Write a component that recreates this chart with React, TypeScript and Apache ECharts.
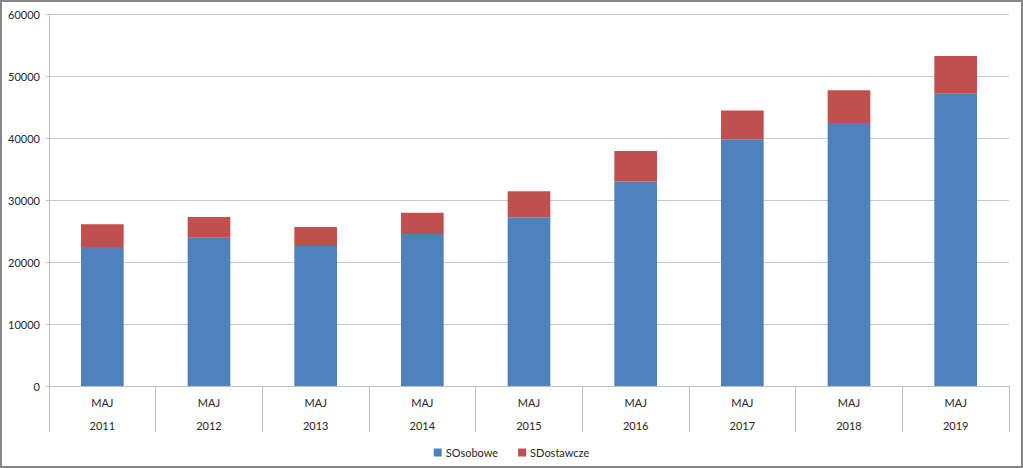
import React, { useEffect, useRef } from "react";
import * as echarts from "echarts";

const months = ["MAJ", "MAJ", "MAJ", "MAJ", "MAJ", "MAJ", "MAJ", "MAJ", "MAJ"];
const years = ["2011", "2012", "2013", "2014", "2015", "2016", "2017", "2018", "2019"];
const osobowe = [22400, 23900, 22600, 24500, 27200, 33000, 39800, 42400, 47150];
const dostawcze = [3700, 3350, 3050, 3450, 4200, 4900, 4650, 5300, 6080];
const yTicks = { min: 0, max: 60000, interval: 10000 };

const FONT = "Lato, 'Open Sans', sans-serif";

export default function App() {
  const ref = useRef<HTMLDivElement>(null);
  useEffect(() => {
    if (!ref.current) return;
    const chart = echarts.init(ref.current, undefined, { renderer: "svg" });
    const categories = years.map((y, i) => `${months[i]}\n${y}`);
    chart.setOption({
      animation: false,
      backgroundColor: "#ffffff",
      textStyle: { fontFamily: FONT },
      graphic: [
        {
          type: "rect",
          shape: { x: 1, y: 1, width: 1021, height: 466 },
          style: { fill: "none", stroke: "#868686", lineWidth: 2 },
          silent: true,
        },
      ],
      grid: { left: 49, right: 14, top: 14, bottom: 82, containLabel: false },
      legend: {
        top: 442,
        left: "center",
        itemWidth: 8,
        itemHeight: 8,
        itemGap: 20,
        icon: "rect",
        textStyle: { fontFamily: FONT, fontSize: 11, color: "#262626", padding: [0, 0, 0, -1] },
        data: ["SOsobowe", "SDostawcze"],
      },
      xAxis: {
        type: "category",
        data: categories,
        axisLine: { show: true, lineStyle: { color: "#bfbfbf", width: 1 } },
        axisTick: { show: true, length: 46, alignWithLabel: false, lineStyle: { color: "#bfbfbf" } },
        axisLabel: {
          interval: 0,
          margin: 5,
          fontFamily: FONT,
          fontSize: 11,
          lineHeight: 23,
          color: "#262626",
        },
      },
      yAxis: {
        type: "value",
        min: yTicks.min,
        max: yTicks.max,
        interval: yTicks.interval,
        axisLine: { show: true, lineStyle: { color: "#bfbfbf", width: 1 } },
        axisTick: { show: true, length: 3, lineStyle: { color: "#bfbfbf" } },
        axisLabel: {
          fontFamily: FONT,
          fontSize: 11,
          color: "#262626",
          margin: 9,
          formatter: (v: number) => String(v),
        },
        splitLine: { show: true, lineStyle: { color: "#c8c8c8", width: 1 } },
      },
      series: [
        {
          name: "SOsobowe",
          type: "bar",
          stack: "total",
          data: osobowe,
          barCategoryGap: "60%",
          itemStyle: { color: "#4F81BD" },
        },
        {
          name: "SDostawcze",
          type: "bar",
          stack: "total",
          data: dostawcze,
          barCategoryGap: "60%",
          itemStyle: { color: "#C0504D" },
        },
      ],
    });
    return () => chart.dispose();
  }, []);
  return (
    <div
      ref={ref}
      style={{ position: "fixed", left: 0, top: 0, width: 1023, height: 468 }}
    />
  );
}
